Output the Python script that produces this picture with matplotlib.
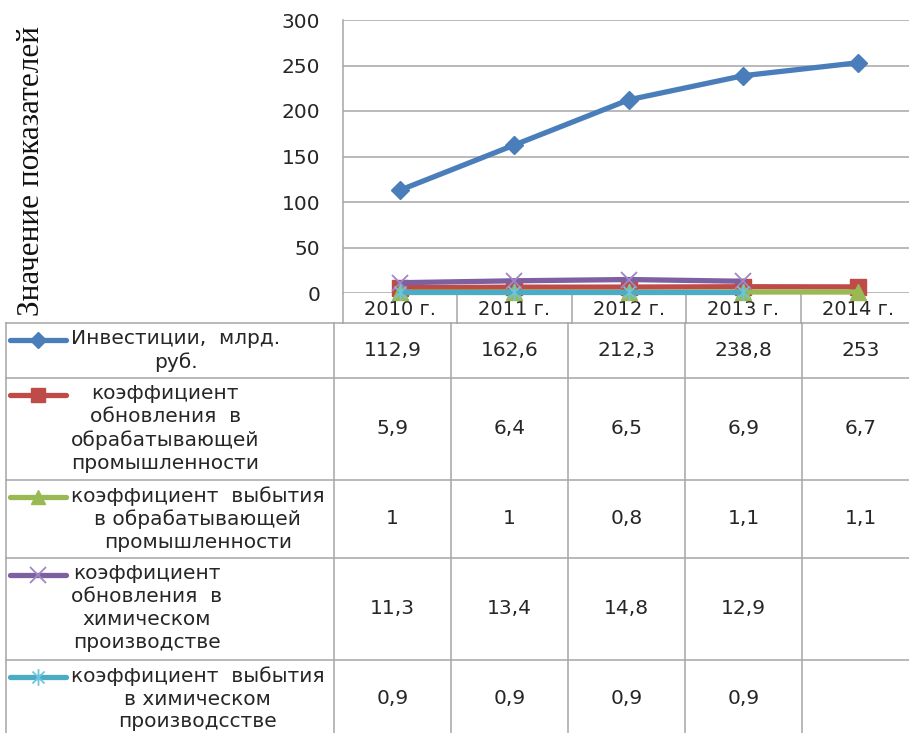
import numpy as np
import matplotlib
matplotlib.use("Agg")
import matplotlib.pyplot as plt
from matplotlib.path import Path

# ---- data -------------------------------------------------------------
years = ["2010 г.", "2011 г.", "2012 г.", "2013 г.", "2014 г."]

series_names = [
    "Инвестиции,  млрд.\nруб.",
    "коэффициент\nобновления  в\nобрабатывающей\nпромышленности",
    "коэффициент  выбытия\nв обрабатывающей\nпромышленности",
    "коэффициент\nобновления  в\nхимическом\nпроизводстве",
    "коэффициент  выбытия\nв химическом\nпроизводсстве",
]

investments = [112.9, 162.6, 212.3, 238.8, 253]
renewal_manufacturing = [5.9, 6.4, 6.5, 6.9, 6.7]
retirement_manufacturing = [1, 1, 0.8, 1.1, 1.1]
renewal_chemical = [11.3, 13.4, 14.8, 12.9, np.nan]
retirement_chemical = [0.9, 0.9, 0.9, 0.9, np.nan]

all_series = [investments, renewal_manufacturing, retirement_manufacturing,
              renewal_chemical, retirement_chemical]

y_ticks = [0, 50, 100, 150, 200, 250, 300]
y_label = "Значение показателей"

# ---- styles -----------------------------------------------------------
# asterisk marker: an "x" crossed by a vertical stroke
d = 0.72
star_path = Path(
    [(0, -1), (0, 1), (-d, -d), (d, d), (-d, d), (d, -d)],
    [Path.MOVETO, Path.LINETO, Path.MOVETO, Path.LINETO,
     Path.MOVETO, Path.LINETO],
)

colors = ["#4A7EBB", "#BE4B48", "#98B954", "#7D60A0", "#4BACC6"]
markers = ["D", "s", "^", "x", star_path]
msizes = [9.5, 11, 11, 11, 12]
grid_col = "#A6A6A6"
txt_col = "#262626"

W, H = 909, 733
fig = plt.figure(figsize=(W / 100, H / 100), dpi=100)

# plot area in pixel terms
px_left, px_right, px_top, px_bottom = 342.5, 915.0, 20.0, 293.0
ax = fig.add_axes([px_left / W, 1 - px_bottom / H,
                   (px_right - px_left) / W, (px_bottom - px_top) / H])


def marker_style(m, c, ms):
    if m == "x":
        return dict(marker=m, ms=ms, mew=1.3, mec="#9F86C4")
    if isinstance(m, Path):
        return dict(marker=m, ms=ms, mew=1.3, mec="#6FC3DA", mfc="none")
    return dict(marker=m, ms=ms, mec=c, mfc=c)


x = np.arange(len(years))
for vals, c, m, ms in zip(all_series, colors, markers, msizes):
    v = np.array(vals, dtype=float)
    ax.plot(x, v, color=c, lw=3.8, zorder=3, clip_on=False,
            **marker_style(m, c, ms))

ax.set_xlim(-0.5, 4.5)
ax.set_ylim(0, 300)
ax.set_yticks(y_ticks)
ax.set_yticklabels([str(t) for t in y_ticks], fontsize=14.5, color=txt_col)
ax.tick_params(axis="y", length=0, pad=16)
ax.set_xticks(x)
ax.set_xticklabels(years, fontsize=14, color=txt_col)
ax.set_xticks(np.arange(-0.5, 5.0, 1.0), minor=True)
ax.tick_params(axis="x", which="major", length=0, pad=5)
ax.tick_params(axis="x", which="minor", length=22, width=1.1,
               color=grid_col)
ax.yaxis.grid(True, color=grid_col, lw=1.1)
ax.set_axisbelow(True)
for s in ["top", "right", "bottom"]:
    ax.spines[s].set_visible(False)
ax.spines["left"].set_color(grid_col)
ax.spines["left"].set_linewidth(1.1)

fig.text(32 / W, 1 - 171 / H, y_label, rotation=90, ha="center",
         va="center", fontsize=22.5, family="Liberation Serif",
         color="#111111")

# ---- data table below the chart (pixel coordinates) -------------------
tb = fig.add_axes([0, 0, 1, 1], zorder=-1)
tb.set_xlim(0, W)
tb.set_ylim(H, 0)
tb.axis("off")

row_edges = [323, 378, 480, 558, 660, 738]
col_edges = [5.5, 334, 451, 568, 685, 802, 919]

for yy in row_edges[:-1]:
    tb.plot([col_edges[0], W + 20], [yy, yy], color=grid_col, lw=1.1)
for xx in col_edges[:-1]:
    tb.plot([xx, xx], [row_edges[0], H + 10], color=grid_col, lw=1.1)

for i, (name, vals, c, m, ms) in enumerate(
        zip(series_names, all_series, colors, markers, msizes)):
    top = row_edges[i]
    bottom = row_edges[i + 1]
    key_y = top + 17
    tb.plot([10, 66], [key_y, key_y], color=c, lw=3.8,
            solid_capstyle="round")
    st = marker_style(m, c, ms - (1.5 if m in ("D", "s", "^") else 0))
    tb.plot([38], [key_y], ls="none", **st)
    tb.text(71, top + 6, name, ha="left", va="top", multialignment="center",
            fontsize=14.5, color=txt_col, linespacing=1.26)
    yc = (top + bottom) / 2
    for j, v in enumerate(vals):
        if np.isnan(v):
            continue
        xc = (col_edges[j + 1] + col_edges[j + 2]) / 2
        tb.text(xc, yc, f"{v:g}".replace(".", ","), ha="center",
                va="center", fontsize=14.5, color=txt_col)

fig.savefig("out.png", dpi=100)
